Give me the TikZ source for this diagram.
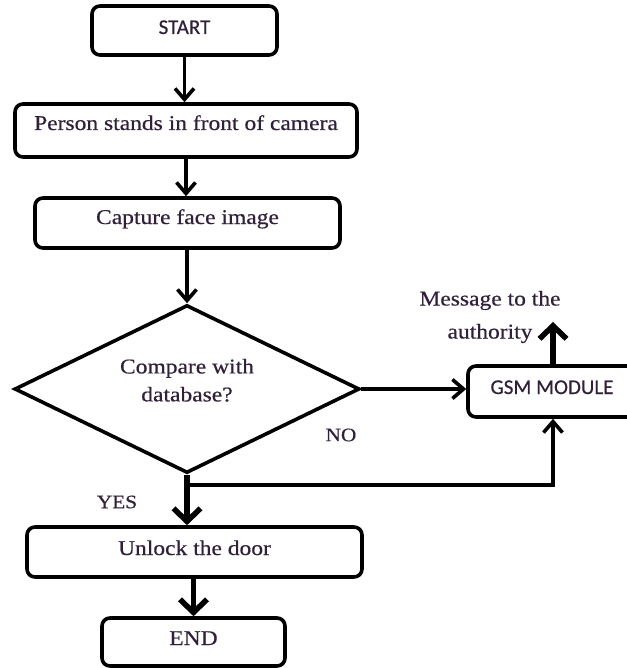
\documentclass[tikz,border=0pt]{standalone}
\usepackage{fontspec}
\setmainfont{Liberation Serif}[FakeStretch=1.12,FakeBold=0.5]
\newfontfamily\sansf{Carlito}[FakeBold=0.5]
\usetikzlibrary{arrows.meta,shapes.geometric}
\definecolor{ink}{HTML}{30203A}
\newcommand{\rt}[2]{\raisebox{#1}[0pt][0pt]{#2}}
\begin{document}
\begin{tikzpicture}[x=1pt,y=-1pt,
  box/.style={draw, line width=3.6pt, rounded corners=8pt, inner sep=0pt, text=ink,
    font=\fontsize{21}{24}\selectfont},
  sbox/.style={box, font=\sansf\fontsize{21}{24}\selectfont},
  lbl/.style={inner sep=0pt, text=ink, font=\fontsize{21}{33}\selectfont},
  arr/.style={line width=3.6pt, -{Straight Barb[length=11pt,width=19pt]}},
  arrthick/.style={line width=5.5pt, -{Straight Barb[length=13pt,width=27pt]}}]
\useasboundingbox (0,0) rectangle (626,668);

\node[sbox, minimum width=185pt, minimum height=49pt] (start) at (184.5,30.5) {\rt{-3.5pt}{START}};
\node[box, minimum width=342pt, minimum height=53pt] (person) at (186,130.5) {\rt{0.5pt}{Person stands in front of camera}};
\node[box, minimum width=305pt, minimum height=50pt] (capture) at (187.5,223) {\rt{-1pt}{Capture face image}};
\node[draw, diamond, line width=3.6pt, aspect=2.05, minimum width=345pt, minimum height=168pt,
  inner sep=0pt, text=ink, font=\fontsize{21}{28}\selectfont] (dec) at (187,389)
  {\rt{2pt}{\begin{tabular}{@{}c@{}}Compare with\\database?\end{tabular}}};
\node[sbox, minimum width=168pt, minimum height=51pt] (gsm) at (552,391.5) {\rt{-2.5pt}{GSM MODULE}};
\node[box, minimum width=335pt, minimum height=50pt] (unlock) at (194.5,552) {\rt{-3pt}{Unlock the door}};
\node[box, minimum width=183pt, minimum height=48pt] (end) at (193.5,642) {\rt{-3pt}{END}};

\node[lbl, align=center] (msgtext) at (490,317) {Message to the\\authority};
\node[lbl, font=\fontsize{19}{22}\selectfont] (no) at (341,435) {NO};
\node[lbl, font=\fontsize{19}{22}\selectfont] (yes) at (117,502) {YES};

\coordinate (msg) at (553,322);
\coordinate (br) at (188,485);

\draw[arr] (start.south) -- (start.south |- person.north);
\draw[arr] (person.south) -- (person.south |- capture.north);
\draw[arr] (capture.south -| dec.north) -- (dec.north);
\draw[arr] (dec.east) -- (dec.east -| gsm.west);
\draw[arrthick] (gsm.north -| msg) -- (msg);
\draw[arr] (br) -| (gsm.south -| msg);
\draw[arrthick] (dec.south) -- (dec.south |- unlock.north);
\draw[arrthick] (end.north |- unlock.south) -- (end.north);
\end{tikzpicture}
\end{document}
